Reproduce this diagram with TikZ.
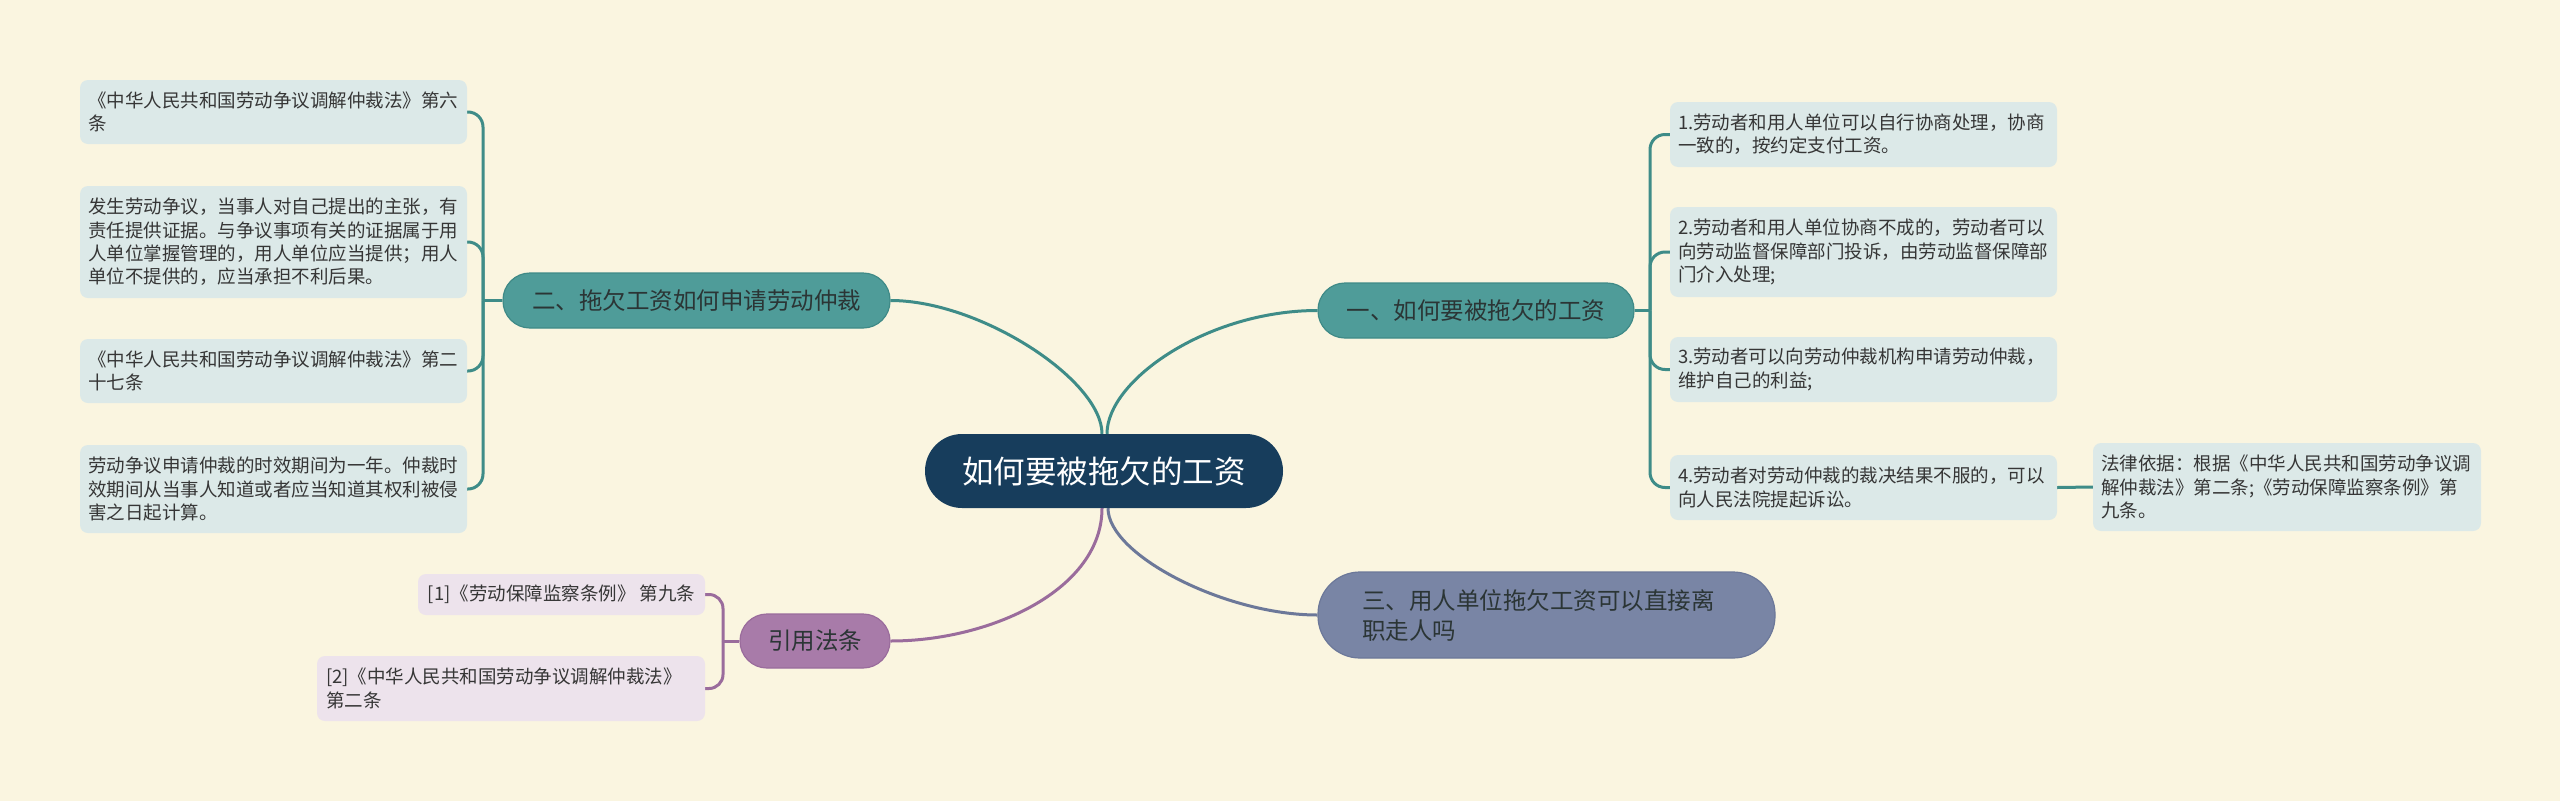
\documentclass[tikz,border=0pt]{standalone}
\usepackage{fontspec}
\newfontfamily\cjk{Noto Sans CJK SC}
\definecolor{bgc}{HTML}{FAF5E0}
\definecolor{navy}{HTML}{173D5C}
\definecolor{tealfill}{HTML}{4F9C99}
\definecolor{tealdraw}{HTML}{3F8A87}
\definecolor{tealline}{HTML}{3E8C88}
\definecolor{leaffill}{HTML}{DCE9E8}
\definecolor{slatefill}{HTML}{7985A5}
\definecolor{slateline}{HTML}{6C7899}
\definecolor{purpfill}{HTML}{A87BA9}
\definecolor{purpline}{HTML}{9A6C9C}
\definecolor{pleaffill}{HTML}{EDE3EC}
\definecolor{txt}{HTML}{363636}
\definecolor{btxt}{HTML}{2B3535}
\pgfdeclarelayer{bglayer}
\pgfdeclarelayer{background}
\pgfsetlayers{bglayer,background,main}
\begin{document}
\begin{tikzpicture}[x=1pt,y=-1pt,
  leaf/.style={fill=leaffill, rounded corners=8, font=\cjk\fontsize{18.5}{23.3}\selectfont,
    text=txt, align=left, inner xsep=8, inner ysep=0, minimum width=387, text width=371},
  pleaf/.style={fill=pleaffill, rounded corners=8, font=\cjk\fontsize{18.5}{23.3}\selectfont,
    text=txt, inner xsep=9, inner ysep=0},
  branch/.style={inner sep=0, font=\cjk\fontsize{23.5}{30}\selectfont, text=btxt, line width=1.2pt},
  conn/.style={line width=3pt},
]
\begin{pgfonlayer}{bglayer}
\fill[bgc] (0,0) rectangle (2560,801);
\end{pgfonlayer}
\useasboundingbox (0,0) rectangle (2560,801);

% central
\node[fill=navy, rounded corners=37, minimum width=358, minimum height=74, inner sep=0,
  font=\cjk\fontsize{31.5}{36}\selectfont, text=white] (c) at (1104,471) {如何要被拖欠的工资};

% main branches
\node[branch, fill=tealfill, draw=tealdraw, rounded corners=27, minimum width=387, minimum height=55] (n2) at (696.5,300.5) {二、拖欠工资如何申请劳动仲裁};
\node[branch, fill=tealfill, draw=tealdraw, rounded corners=27, minimum width=316, minimum height=55] (n1) at (1476,310.5) {一、如何要被拖欠的工资};
\node[branch, fill=slatefill, draw=slateline, rounded corners=42, minimum width=457, minimum height=86, text width=369, align=left] (n3) at (1546.5,615) {三、用人单位拖欠工资可以直接离\\职走人吗};
\node[branch, fill=purpfill, draw=purpline, rounded corners=27, minimum width=150, minimum height=54] (n4) at (815,641) {引用法条};

% left leaves
\node[leaf, minimum height=64] (a) at (273.5,112) {《中华人民共和国劳动争议调解仲裁法》第六\\条};
\node[leaf, minimum height=112] (b) at (273.5,242) {发生劳动争议，当事人对自己提出的主张，有\\责任提供证据。与争议事项有关的证据属于用\\人单位掌握管理的，用人单位应当提供；用人\\单位不提供的，应当承担不利后果。};
\node[leaf, minimum height=64] (cc) at (273.5,371) {《中华人民共和国劳动争议调解仲裁法》第二\\十七条};
\node[leaf, minimum height=88] (d) at (273.5,489) {劳动争议申请仲裁的时效期间为一年。仲裁时\\效期间从当事人知道或者应当知道其权利被侵\\害之日起计算。};

% right leaves
\node[leaf, minimum height=65] (r1) at (1863.5,134.5) {1.劳动者和用人单位可以自行协商处理，协商\\一致的，按约定支付工资。};
\node[leaf, minimum height=90] (r2) at (1863.5,252) {2.劳动者和用人单位协商不成的，劳动者可以\\向劳动监督保障部门投诉，由劳动监督保障部\\门介入处理;};
\node[leaf, minimum height=65] (r3) at (1863.5,369.5) {3.劳动者可以向劳动仲裁机构申请劳动仲裁，\\维护自己的利益;};
\node[leaf, minimum height=65] (r4) at (1863.5,487.5) {4.劳动者对劳动仲裁的裁决结果不服的，可以\\向人民法院提起诉讼。};
\node[leaf, minimum height=88, minimum width=388, text width=372] (basis) at (2287,487) {法律依据：根据《中华人民共和国劳动争议调\\解仲裁法》第二条;《劳动保障监察条例》第\\九条。};

% reference leaves
\node[pleaf, minimum width=287, minimum height=41] (p1) at (561.5,594.5) {[1]《劳动保障监察条例》 第九条};
\node[pleaf, minimum width=388, minimum height=65, text width=370, align=left] (p2) at (511,688.5) {[2]《中华人民共和国劳动争议调解仲裁法》\\第二条};

\begin{pgfonlayer}{background}
% central connectors
\draw[conn, tealline] (n2.east) .. controls (980,300.5) and (1102,380) .. ([xshift=-2pt]c.north);
\draw[conn, tealline] (n1.west) .. controls (1208,310.5) and (1107,380) .. ([xshift=3pt]c.north);
\draw[conn, purpline] (n4.east) .. controls (990,641) and (1102,590) .. ([xshift=-2pt]c.south);
\draw[conn, slateline] (n3.west) .. controls (1225,615) and (1108,555) .. ([xshift=4pt]c.south);

% left trunk
\coordinate (jl) at (483,300.5);
\draw[conn, tealline] (n2.west) -- (jl);
\foreach \n in {a,b,cc,d} \draw[conn, tealline, rounded corners=15] (jl) |- (\n.east);

% right trunk
\coordinate (jr) at (1650,310.5);
\draw[conn, tealline] (n1.east) -- (jr);
\foreach \n in {r1,r2,r3,r4} \draw[conn, tealline, rounded corners=15] (jr) |- (\n.west);
\draw[conn, tealline] (r4.east) -- (basis.west);

% reference trunk
\coordinate (jp) at (723,641);
\draw[conn, purpline] (n4.west) -- (jp);
\foreach \n in {p1,p2} \draw[conn, purpline, rounded corners=14] (jp) |- (\n.east);
\end{pgfonlayer}
\end{tikzpicture}
\end{document}
